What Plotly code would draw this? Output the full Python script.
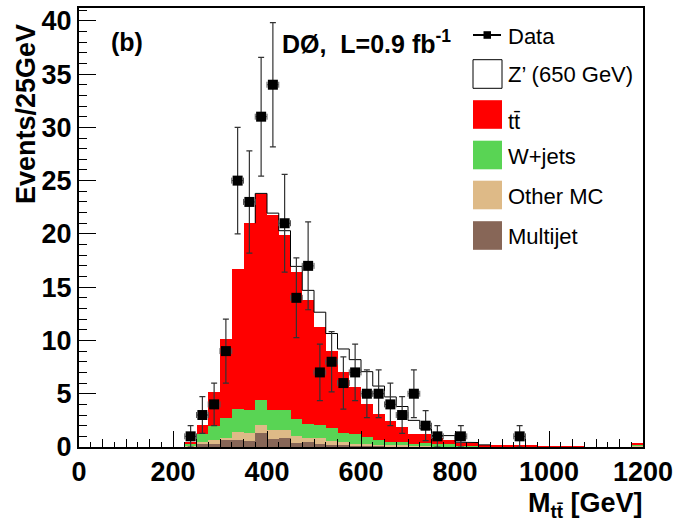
import plotly.graph_objects as go

# ---------------- data ----------------
bin_width = 25.0
bin_lo = [25.0 * i for i in range(48)]          # 0 ... 1175 GeV
bin_center = [b + 12.5 for b in bin_lo]

multijet = [0]*9 + [0.05, 0.30, 0.30, 0.70, 0.70, 0.53, 1.30, 0.72, 0.85, 0.40,
                    0.45, 0.30, 0.20, 0.15, 0.12, 0.10, 0.10, 0.08, 0.05, 0.05,
                    0.05, 0.03, 0.03, 0.02, 0.02, 0.02, 0.02, 0.01, 0.01, 0.01,
                    0, 0, 0, 0, 0, 0, 0, 0, 0.05]
other_mc = [0]*9 + [0.05, 0.17, 0.33, 0.15, 0.70, 0.77, 0.80, 0.85, 0.75, 0.60,
                    0.35, 0.55, 0.35, 0.35, 0.18, 0.20, 0.05, 0.07, 0.10, 0.05,
                    0.07, 0.05, 0.05, 0.03, 0.03, 0.02, 0.01, 0.01, 0.01, 0.01,
                    0, 0, 0, 0, 0, 0, 0, 0, 0.05]
wjets = [0]*9 + [0.20, 0.73, 1.31, 1.85, 2.20, 2.20, 2.30, 1.93, 1.90, 1.60,
                 1.40, 1.25, 1.25, 0.80, 0.90, 0.65, 0.55, 0.33, 0.30, 0.15,
                 0.28, 0.17, 0.17, 0.05, 0.05, 0.04, 0.03, 0.02, 0.02, 0.02,
                 0.01, 0.01, 0.01, 0.01, 0, 0, 0, 0, 0.10]
ttbar = [0]*9 + [0.17, 0.84, 3.26, 7.40, 13.10, 17.50, 19.30, 18.25, 16.40, 13.80,
                 11.60, 9.20, 7.20, 5.70, 4.40, 3.12, 2.37, 1.97, 1.45, 1.00,
                 0.85, 0.55, 0.45, 0.28, 0.28, 0.09, 0.08, 0.08, 0.08, 0.06,
                 0.03, 0.02, 0.06, 0.02, 0, 0, 0, 0, 0.15]
zprime = [0]*9 + [0, 0, 0, 0, 0, 0, 0.10, 0.20, 0.40, 0.55,
                  0.90, 1.35, 1.65, 2.20, 2.60, 3.00, 2.65, 2.25, 1.90, 1.25,
                  0.45, 0.27, 0.37, 0.07, 0.04, 0.03, 0, 0, 0, 0,
                  0, 0, 0, 0, 0, 0, 0, 0, 0]

data_mass = [237.5, 262.5, 287.5, 312.5, 337.5, 362.5, 387.5, 412.5, 437.5, 462.5,
             487.5, 512.5, 537.5, 562.5, 587.5, 612.5, 637.5, 662.5, 687.5, 712.5,
             737.5, 762.5, 812.5, 937.5]
data_events = [1, 3, 4, 9, 25, 23, 31, 34, 21, 14,
               17, 7, 8, 6, 7, 5, 5, 4, 3, 5,
               2, 1, 1, 1]
data_err = [1.0, 1.73, 2.0, 3.0, 5.0, 4.8, 5.57, 5.83, 4.58, 3.74,
            4.12, 2.65, 2.83, 2.45, 2.65, 2.24, 2.24, 2.0, 1.73, 2.24,
            1.41, 1.0, 1.0, 1.0]

x_ticks = [0, 200, 400, 600, 800, 1000, 1200]
y_ticks = [0, 5, 10, 15, 20, 25, 30, 35, 40]

# ---------------- styling ----------------
C_MJ = "#876657"
C_OTHER = "#deba87"
C_W = "#59d454"
C_TT = "#ff0000"
FONT = "Liberation Sans"

W, H = 673, 525
L, R, T, B = 79, 643, 8, 447   # plot area in pixels


def xp(px):
    return (px - L) / (R - L)


def yp(py):
    return (B - py) / (B - T)


fig = go.Figure()

for vals, col, name in [(multijet, C_MJ, "Multijet"), (other_mc, C_OTHER, "Other MC"),
                        (wjets, C_W, "W+jets"), (ttbar, C_TT, "tt̄")]:
    fig.add_trace(go.Bar(x=bin_center, y=vals, width=bin_width, name=name,
                         marker=dict(color=col, line=dict(width=0)),
                         showlegend=False, hoverinfo="skip"))

# Z' outline (stack total including Z'), only where it exceeds the SM stack
sm_total = [a + b + c + d for a, b, c, d in zip(multijet, other_mc, wjets, ttbar)]
zx, zy = [], []
prev_has = False
for i in range(len(bin_lo)):
    if zprime[i] > 0:
        top = sm_total[i] + zprime[i]
        if not prev_has:
            base = sm_total[i - 1] if i > 0 else 0
            zx += [bin_lo[i]]
            zy += [base]
        zx += [bin_lo[i], bin_lo[i] + bin_width]
        zy += [top, top]
        prev_has = True
    else:
        if prev_has:
            zx += [bin_lo[i]]
            zy += [sm_total[i]]
            zx += [None]
            zy += [None]
        prev_has = False
fig.add_trace(go.Scatter(x=zx, y=zy, mode="lines", line=dict(color="black", width=1),
                         showlegend=False, hoverinfo="skip"))

fig.add_trace(go.Scatter(
    x=data_mass, y=data_events, mode="markers",
    marker=dict(symbol="square", size=10, color="black"),
    error_y=dict(type="data", array=data_err, color="#333333", thickness=1.2, width=3),
    error_x=dict(type="constant", value=12.5, color="#555555", thickness=1, width=3),
    showlegend=False, hoverinfo="skip"))

# ---------------- axes ----------------
tickfont = dict(family=FONT, size=27, color="black", weight="bold")
fig.update_xaxes(range=[0, 1200], tickvals=x_ticks, ticktext=[str(v) for v in x_ticks],
                 ticks="inside", ticklen=16, tickwidth=1, tickcolor="black",
                 minor=dict(dtick=50, ticklen=8, ticks="inside", tickcolor="black"),
                 showline=True, linewidth=2, linecolor="black", mirror=True,
                 showgrid=False, zeroline=False, tickfont=tickfont, ticklabelstandoff=0,
                 ticklabeloverflow="allow", automargin=False)
fig.update_yaxes(range=[0, 41.2], tickvals=y_ticks, ticktext=[str(v) for v in y_ticks],
                 ticks="inside", ticklen=17, tickwidth=1, tickcolor="black",
                 minor=dict(dtick=1, ticklen=8, ticks="inside", tickcolor="black"),
                 showline=True, linewidth=2, linecolor="black", mirror=True,
                 showgrid=False, zeroline=False, tickfont=tickfont, ticklabelstandoff=0,
                 ticklabeloverflow="allow", automargin=False)

# fine 25 GeV ticks on an overlaying axis
fig.update_layout(xaxis2=dict(overlaying="x", range=[0, 1200], side="bottom",
                              dtick=25, tick0=0, ticks="inside", ticklen=5,
                              tickcolor="black", showticklabels=False,
                              showline=False, showgrid=False, zeroline=False,
                              automargin=False))
fig.add_trace(go.Scatter(x=[None], y=[None], xaxis="x2", showlegend=False,
                         hoverinfo="skip"))

# ---------------- legend (drawn by hand, ROOT style) ----------------
shapes = []
annos = []
legend_rows = [
    ("Data", 35, None),
    ("Z’ (650 GeV)", 74, "white"),
    ("tt̄", 114.5, C_TT),
    ("W+jets", 155, C_W),
    ("Other MC", 195, C_OTHER),
    ("Multijet", 235.5, C_MJ),
]
for label, cy, col in legend_rows:
    if col is None:
        shapes.append(dict(type="line", xref="paper", yref="paper",
                           x0=xp(473), x1=xp(501), y0=yp(cy), y1=yp(cy),
                           line=dict(color="black", width=2)))
        shapes.append(dict(type="rect", xref="paper", yref="paper",
                           x0=xp(483.5), x1=xp(491), y0=yp(cy + 3.8), y1=yp(cy - 3.8),
                           fillcolor="black", line=dict(width=0)))
    else:
        shapes.append(dict(type="rect", xref="paper", yref="paper",
                           x0=xp(473), x1=xp(502), y0=yp(cy + 14.3), y1=yp(cy - 14.3),
                           fillcolor=col,
                           line=dict(color="black" if col == "white" else col,
                                     width=1 if col == "white" else 0)))
    ty = cy + (7 if label == "tt̄" else 1)
    annos.append(dict(text=label, xref="paper", yref="paper", x=xp(506), y=yp(ty),
                      xanchor="left", yanchor="middle", showarrow=False,
                      font=dict(family=FONT, size=22, color="black")))

annos.append(dict(text="<b>(b)</b>", xref="paper", yref="paper", x=xp(127), y=yp(42),
                  xanchor="center", yanchor="middle", showarrow=False,
                  font=dict(family=FONT, size=25, color="black")))
annos.append(dict(text="<b>DØ,  L=0.9 fb<sup>-1</sup></b>", xref="paper", yref="paper",
                  x=xp(280), y=yp(42), xanchor="left", yanchor="middle", showarrow=False,
                  font=dict(family=FONT, size=25, color="black")))
annos.append(dict(text="<b>Events/25GeV</b>", xref="paper", yref="paper",
                  x=xp(26), y=yp(114), xanchor="center", yanchor="middle",
                  textangle=-90, showarrow=False,
                  font=dict(family=FONT, size=27, color="black")))
annos.append(dict(text="<b>M<sub>tt̄</sub> [GeV]</b>", xref="paper", yref="paper",
                  x=xp(645), y=yp(505), xanchor="right", yanchor="middle",
                  showarrow=False, font=dict(family=FONT, size=27, color="black")))

fig.update_layout(width=W, height=H, margin=dict(l=L, r=W - R, t=T, b=H - B),
                  paper_bgcolor="white", plot_bgcolor="white",
                  barmode="stack", bargap=0, shapes=shapes, annotations=annos,
                  showlegend=False)

fig.write_html("out.html")
